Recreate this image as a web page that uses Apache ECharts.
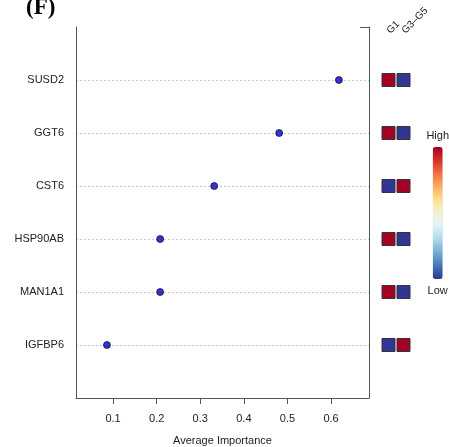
<!DOCTYPE html>
<html><head><meta charset="utf-8">
<script src="https://cdn.jsdelivr.net/npm/echarts@6/dist/echarts.min.js"></script>
<style>html,body{margin:0;padding:0;background:#fff}#c{width:449px;height:447px}</style>
</head><body><div id="c"></div>
<script>
// genes from bottom to top
const genes = ['IGFBP6', 'MAN1A1', 'HSP90AB', 'CST6', 'GGT6', 'SUSD2'];
const importance = [0.086, 0.208, 0.208, 0.332, 0.481, 0.618];
const groups = ['G1', 'G3\u2013G5'];
// 1 = High, 0 = Low
const g1Level = [0, 1, 1, 0, 1, 1];
const g35Level = [1, 0, 0, 1, 0, 0];
const xTicks = [0.1, 0.2, 0.3, 0.4, 0.5, 0.6];
const rdylbu = ['#313695','#4575b4','#74add1','#abd9e9','#e0f3f8','#f2f1d8','#fee090','#fdae61','#f46d43','#d73027','#a50026'];

const font = 'Liberation Sans, Arial, sans-serif';
const dots = genes.map((g, i) => [importance[i], i + 1]);
const cells = [];
genes.forEach((g, i) => {
  cells.push([1, i + 1, g1Level[i]]);
  cells.push([2, i + 1, g35Level[i]]);
});

const chart = echarts.init(document.getElementById('c'), null, {renderer: 'canvas'});
chart.setOption({
  backgroundColor: '#fff',
  animation: false,
  title: {text: '(F)', left: 21, top: -8,
    textStyle: {fontFamily: 'Liberation Serif, DejaVu Serif, serif', fontWeight: 'bold', fontSize: 23, color: '#000'}},
  grid: [
    {left: 76, right: 80, top: 27, bottom: 49, outerBoundsMode: 'none', containLabel: false},
    {left: 381, width: 30, top: 27, bottom: 49, outerBoundsMode: 'none', containLabel: false}
  ],
  xAxis: [
    {gridIndex: 0, type: 'value', min: 0.015, max: 0.687,
      axisLine: {show: true, lineStyle: {color: '#555', width: 1}},
      axisTick: {show: true, length: 6, customValues: xTicks, lineStyle: {color: '#555'}},
      axisLabel: {show: true, customValues: xTicks, margin: 15, fontFamily: font, fontSize: 11, color: '#222'},
      splitLine: {show: false},
      name: 'Average Importance', nameLocation: 'middle', nameGap: 37,
      nameTextStyle: {fontFamily: font, fontSize: 11, color: '#222'}},
    {gridIndex: 1, type: 'value', min: 0.5, max: 2.5, position: 'top',
      axisLine: {show: false}, axisTick: {show: false}, splitLine: {show: false},
      axisLabel: {show: true, customValues: [1, 2], hideOverlap: false, rotate: 45, margin: -5,
        fontFamily: font, fontSize: 10, color: '#222',
        formatter: v => groups[Math.round(v) - 1] || ''}}
  ],
  yAxis: [
    {gridIndex: 0, type: 'value', min: 0, max: 7, interval: 1,
      axisLine: {show: true, lineStyle: {color: '#555', width: 1}},
      axisTick: {show: false},
      axisLabel: {margin: 12, fontFamily: font, fontSize: 11, color: '#222',
        formatter: v => (v >= 1 && v <= 6) ? genes[v - 1] : ''},
      splitLine: {show: true, showMinLine: false, showMaxLine: false,
        lineStyle: {color: '#c8c8c8', type: [2, 2], width: 1}}},
    {gridIndex: 0, type: 'value', min: 0, max: 7, position: 'right',
      axisLine: {show: true, lineStyle: {color: '#555', width: 1}},
      axisTick: {show: true, inside: true, length: 9, customValues: [7], lineStyle: {color: '#555'}},
      axisLabel: {show: false}, splitLine: {show: false}},
    {gridIndex: 1, type: 'value', min: 0, max: 7, interval: 1,
      axisLine: {show: false}, axisTick: {show: false}, axisLabel: {show: false}, splitLine: {show: false}}
  ],
  visualMap: {
    type: 'continuous', seriesIndex: 1, dimension: 2, min: 0, max: 1,
    orient: 'vertical', right: 0, top: 130, padding: 0, itemWidth: 10, itemHeight: 132,
    calculable: false, text: ['High', 'Low'], textGap: 6,
    textStyle: {fontFamily: font, fontSize: 11, color: '#222'},
    inRange: {color: rdylbu}, hoverLink: false
  },
  series: [
    {type: 'scatter', xAxisIndex: 0, yAxisIndex: 0, data: dots, symbolSize: 7,
      itemStyle: {color: '#0000cc', borderColor: '#000', borderWidth: 0.8}},
    {type: 'scatter', xAxisIndex: 1, yAxisIndex: 2, data: cells, symbol: 'rect', symbolSize: 13,
      itemStyle: {borderColor: '#333', borderWidth: 1, opacity: 1}}
  ]
});
</script></body></html>
